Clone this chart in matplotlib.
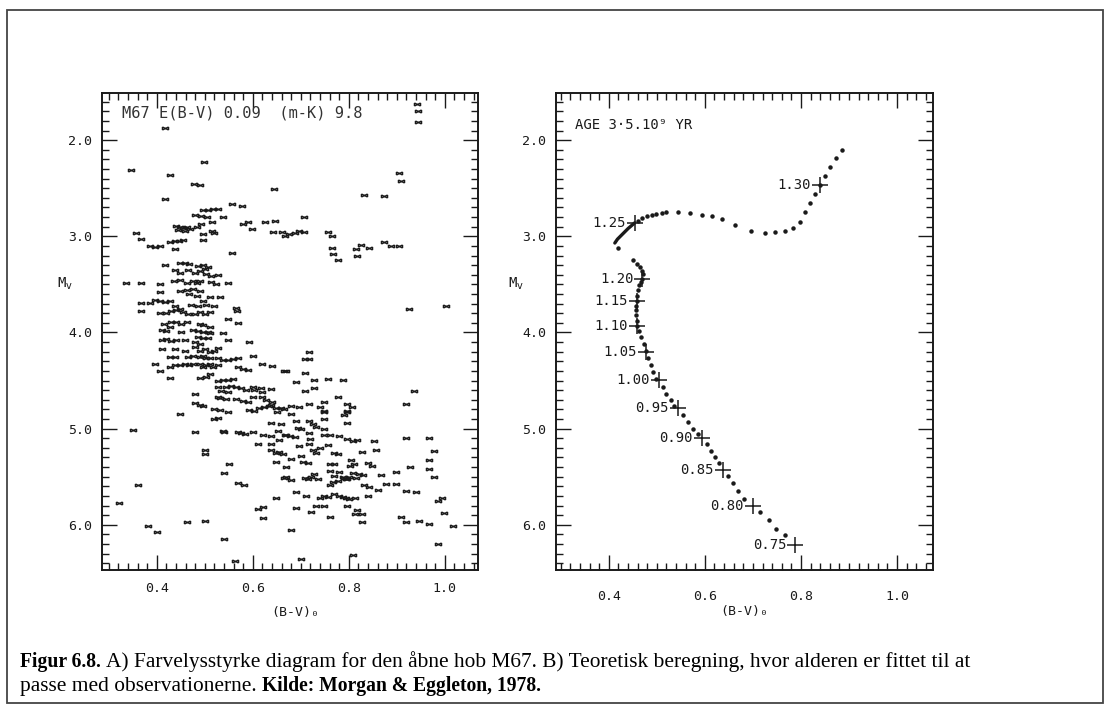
import matplotlib
matplotlib.use('Agg')
import matplotlib.pyplot as plt
from matplotlib.path import Path
from matplotlib.patches import Rectangle
from matplotlib.ticker import MultipleLocator, FixedLocator

stars_giants = [
    (0.943, 1.62), (0.945, 1.70), (0.945, 1.81), (0.417, 1.87),
    (0.498, 2.23), (0.347, 2.31), (0.427, 2.36), (0.478, 2.46), (0.490, 2.47),
    (0.417, 2.61), (0.645, 2.51), (0.557, 2.66), (0.577, 2.68),
    (0.904, 2.34), (0.909, 2.43), (0.832, 2.57), (0.874, 2.58),
    (0.497, 2.73), (0.507, 2.73), (0.518, 2.72), (0.528, 2.72),
    (0.480, 2.78), (0.492, 2.79), (0.505, 2.80), (0.538, 2.80),
    (0.516, 2.85), (0.493, 2.87),
    (0.440, 2.89), (0.448, 2.90), (0.455, 2.91), (0.463, 2.90), (0.445, 2.93),
    (0.458, 2.94), (0.470, 2.92), (0.483, 2.90), (0.516, 2.94), (0.520, 2.97),
    (0.580, 2.875), (0.590, 2.85), (0.598, 2.92), (0.626, 2.85), (0.647, 2.84),
    (0.642, 2.955), (0.660, 2.955), (0.668, 3.00),
    (0.356, 2.97), (0.368, 3.03), (0.385, 3.10), (0.396, 3.11), (0.407, 3.10),
    (0.427, 3.06), (0.437, 3.05), (0.447, 3.05), (0.455, 3.04), (0.437, 3.13),
    (0.496, 2.98), (0.496, 3.04), (0.557, 3.17), (0.706, 2.80),
    (0.675, 2.98), (0.688, 2.97), (0.696, 2.95), (0.706, 2.96),
    (0.756, 2.955), (0.765, 3.00), (0.766, 3.12), (0.767, 3.18), (0.777, 3.25),
    (0.815, 3.13), (0.816, 3.20), (0.825, 3.09), (0.843, 3.12),
    (0.873, 3.06), (0.888, 3.10), (0.905, 3.10), (0.925, 3.76), (1.003, 3.73),
]

stars_turnoff = [
    (0.417, 3.30), (0.448, 3.28), (0.458, 3.28), (0.468, 3.29),
    (0.485, 3.31), (0.496, 3.30), (0.506, 3.32),
    (0.437, 3.35), (0.448, 3.38), (0.465, 3.35), (0.479, 3.38), (0.490, 3.36),
    (0.500, 3.34), (0.503, 3.39), (0.513, 3.41), (0.527, 3.40),
    (0.337, 3.49), (0.368, 3.49), (0.406, 3.50),
    (0.435, 3.47), (0.448, 3.45), (0.462, 3.49), (0.475, 3.47), (0.483, 3.49),
    (0.490, 3.46), (0.513, 3.48), (0.523, 3.50), (0.548, 3.49),
    (0.406, 3.58), (0.448, 3.57), (0.462, 3.56), (0.475, 3.55), (0.468, 3.60),
    (0.490, 3.57), (0.483, 3.62), (0.510, 3.63), (0.531, 3.63),
    (0.368, 3.69), (0.385, 3.69), (0.396, 3.66), (0.406, 3.67), (0.417, 3.68),
    (0.427, 3.67), (0.368, 3.78), (0.437, 3.73), (0.448, 3.76), (0.455, 3.79),
    (0.472, 3.71), (0.486, 3.72), (0.496, 3.67), (0.503, 3.71), (0.520, 3.72),
    (0.406, 3.80), (0.420, 3.80), (0.430, 3.78), (0.441, 3.77),
    (0.465, 3.81), (0.479, 3.81), (0.490, 3.79), (0.500, 3.81), (0.510, 3.79),
    (0.566, 3.75), (0.567, 3.78), (0.548, 3.86), (0.569, 3.90),
    (0.430, 3.89), (0.441, 3.89), (0.451, 3.91), (0.462, 3.89), (0.416, 3.91),
    (0.427, 3.94), (0.490, 3.91), (0.496, 3.92), (0.510, 3.94), (0.506, 3.99),
    (0.410, 3.97), (0.420, 3.98), (0.475, 3.97), (0.486, 3.98), (0.496, 4.00),
    (0.510, 4.01), (0.451, 4.00), (0.485, 4.05), (0.496, 4.06), (0.506, 4.06),
    (0.538, 4.01), (0.410, 4.08), (0.420, 4.07), (0.430, 4.09), (0.441, 4.08),
    (0.458, 4.08), (0.480, 4.10), (0.490, 4.12), (0.548, 4.08), (0.593, 4.10),
    (0.410, 4.17), (0.437, 4.17), (0.458, 4.19),
    (0.480, 4.15), (0.490, 4.19), (0.500, 4.17), (0.510, 4.20), (0.520, 4.19),
    (0.527, 4.16), (0.427, 4.25), (0.437, 4.25), (0.465, 4.25), (0.475, 4.24),
    (0.490, 4.25), (0.496, 4.24), (0.503, 4.27), (0.510, 4.27),
    (0.527, 4.27), (0.538, 4.29), (0.548, 4.29), (0.558, 4.28), (0.569, 4.27),
    (0.600, 4.24), (0.620, 4.33), (0.640, 4.35), (0.666, 4.40),
    (0.396, 4.33), (0.406, 4.40),
    (0.427, 4.36), (0.437, 4.34), (0.448, 4.34), (0.458, 4.33), (0.468, 4.34),
    (0.475, 4.33), (0.490, 4.33), (0.496, 4.36), (0.503, 4.34), (0.510, 4.33),
    (0.517, 4.36), (0.527, 4.34), (0.569, 4.36), (0.580, 4.38), (0.590, 4.39),
    (0.427, 4.47), (0.490, 4.47), (0.503, 4.46), (0.510, 4.43),
    (0.527, 4.50), (0.538, 4.49), (0.548, 4.49), (0.558, 4.48),
    (0.527, 4.57), (0.534, 4.61), (0.545, 4.57), (0.548, 4.62), (0.555, 4.56),
    (0.566, 4.57), (0.576, 4.58), (0.586, 4.60),
    (0.600, 4.57), (0.603, 4.60), (0.617, 4.58), (0.620, 4.62), (0.638, 4.59),
    (0.479, 4.64), (0.527, 4.67), (0.531, 4.68), (0.545, 4.69),
    (0.566, 4.69), (0.580, 4.71), (0.590, 4.72), (0.600, 4.67),
    (0.620, 4.67), (0.627, 4.70), (0.641, 4.72), (0.638, 4.75),
    (0.479, 4.73), (0.490, 4.75), (0.496, 4.76),
]

stars_lower = [
    (0.448, 4.85), (0.520, 4.80), (0.531, 4.81),
    (0.593, 4.81), (0.603, 4.82), (0.613, 4.79), (0.624, 4.77), (0.634, 4.76),
    (0.648, 4.79), (0.658, 4.79), (0.666, 4.80),
    (0.718, 4.20), (0.708, 4.28), (0.718, 4.28), (0.670, 4.40), (0.709, 4.42),
    (0.690, 4.51), (0.728, 4.49), (0.756, 4.48), (0.787, 4.49),
    (0.708, 4.61), (0.728, 4.58), (0.936, 4.61), (0.919, 4.74), (0.777, 4.67),
    (0.680, 4.76), (0.697, 4.78), (0.718, 4.74), (0.739, 4.77), (0.749, 4.72),
    (0.797, 4.74), (0.807, 4.78), (0.797, 4.83), (0.749, 4.83), (0.680, 4.85),
    (0.548, 4.83), (0.520, 4.90), (0.527, 4.89), (0.650, 4.83),
    (0.638, 4.94), (0.659, 4.95),
    (0.350, 5.01), (0.479, 5.04), (0.538, 5.02), (0.541, 5.04),
    (0.569, 5.04), (0.576, 5.05), (0.583, 5.06), (0.600, 5.04), (0.621, 5.07),
    (0.638, 5.08), (0.652, 5.02), (0.655, 5.12), (0.668, 5.07),
    (0.610, 5.16), (0.638, 5.16), (0.638, 5.22), (0.648, 5.25), (0.655, 5.24),
    (0.662, 5.26), (0.500, 5.22), (0.500, 5.26),
    (0.550, 5.37), (0.541, 5.46), (0.649, 5.35), (0.670, 5.40), (0.670, 5.50),
    (0.569, 5.57), (0.581, 5.59), (0.361, 5.59), (0.322, 5.77), (0.649, 5.72),
    (0.610, 5.84), (0.621, 5.82), (0.621, 5.93),
    (0.462, 5.97), (0.500, 5.96), (0.382, 6.01), (0.401, 6.07), (0.541, 6.15),
    (0.562, 6.38),
    (0.718, 4.92), (0.725, 4.95), (0.732, 4.98), (0.749, 4.82), (0.749, 4.90),
    (0.790, 4.86), (0.797, 4.82), (0.797, 4.94),
    (0.690, 4.92), (0.694, 4.99), (0.700, 5.00), (0.749, 5.00),
    (0.670, 5.07), (0.677, 5.08), (0.687, 5.09), (0.718, 5.05), (0.720, 5.11),
    (0.749, 5.07), (0.760, 5.07), (0.780, 5.08),
    (0.797, 5.11), (0.808, 5.13), (0.818, 5.12), (0.853, 5.13), (0.919, 5.10),
    (0.968, 5.10),
    (0.697, 5.18), (0.718, 5.16), (0.725, 5.22), (0.732, 5.25), (0.739, 5.20),
    (0.756, 5.17), (0.770, 5.25), (0.777, 5.26),
    (0.827, 5.24), (0.857, 5.22), (0.978, 5.23),
    (0.680, 5.32), (0.700, 5.28), (0.705, 5.35), (0.715, 5.36), (0.760, 5.37),
    (0.770, 5.37), (0.805, 5.33), (0.810, 5.37), (0.803, 5.39), (0.840, 5.36),
    (0.848, 5.39), (0.728, 5.47), (0.735, 5.52),
    (0.760, 5.44), (0.770, 5.49), (0.780, 5.45), (0.787, 5.50), (0.794, 5.52),
    (0.801, 5.50), (0.808, 5.46), (0.815, 5.51),
    (0.822, 5.47), (0.830, 5.48), (0.868, 5.48), (0.898, 5.45), (0.928, 5.40),
    (0.968, 5.42), (0.968, 5.33), (0.978, 5.50),
    (0.666, 5.51), (0.680, 5.53), (0.708, 5.51), (0.715, 5.52), (0.722, 5.50),
    (0.760, 5.59), (0.767, 5.56), (0.777, 5.54), (0.790, 5.51), (0.797, 5.52),
    (0.832, 5.59), (0.843, 5.61), (0.860, 5.64), (0.877, 5.58), (0.898, 5.58),
    (0.919, 5.65), (0.940, 5.66), (0.690, 5.66), (0.711, 5.70),
    (0.739, 5.72), (0.749, 5.70), (0.756, 5.71), (0.770, 5.68), (0.780, 5.70),
    (0.787, 5.71), (0.794, 5.72), (0.801, 5.73), (0.812, 5.72),
    (0.840, 5.70), (0.985, 5.75), (0.995, 5.72),
    (0.690, 5.83), (0.732, 5.80), (0.749, 5.80), (0.722, 5.87), (0.760, 5.92),
    (0.797, 5.80), (0.812, 5.89), (0.818, 5.85), (0.827, 5.89), (0.827, 5.97),
    (0.909, 5.92), (0.919, 5.97), (0.947, 5.96), (0.968, 5.99), (0.998, 5.88),
    (1.016, 6.01), (0.680, 6.05), (0.986, 6.20), (0.700, 6.36), (0.808, 6.31),
]

# ---- theoretical isochrone, 3.5e9 yr ----
iso_giant = [
    (0.885, 2.10), (0.873, 2.19), (0.861, 2.28), (0.850, 2.37), (0.840, 2.47),
    (0.829, 2.56), (0.819, 2.65), (0.808, 2.75), (0.798, 2.85), (0.784, 2.91),
    (0.767, 2.94), (0.746, 2.96), (0.725, 2.97), (0.696, 2.94), (0.662, 2.88),
    (0.635, 2.82), (0.614, 2.79), (0.593, 2.78), (0.570, 2.76), (0.544, 2.75),
    (0.520, 2.75), (0.510, 2.76), (0.498, 2.77), (0.489, 2.78), (0.479, 2.79),
    (0.469, 2.81), (0.461, 2.84), (0.419, 3.12),
]
iso_hook = [(0.454, 2.86), (0.440, 2.92), (0.428, 2.98), (0.418, 3.03), (0.4125, 3.07)]
iso_ms = [
    (0.451, 3.25), (0.458, 3.29), (0.464, 3.32), (0.469, 3.36), (0.471, 3.39),
    (0.470, 3.44), (0.466, 3.48), (0.463, 3.51), (0.461, 3.56), (0.459, 3.62),
    (0.458, 3.67), (0.457, 3.72), (0.457, 3.77), (0.457, 3.82), (0.458, 3.88),
    (0.458, 3.93), (0.463, 3.98), (0.468, 4.05), (0.473, 4.12), (0.477, 4.19),
    (0.482, 4.27), (0.4875, 4.34), (0.492, 4.41), (0.499, 4.48), (0.513, 4.57),
    (0.520, 4.64), (0.5285, 4.70), (0.535, 4.76), (0.555, 4.86), (0.565, 4.93),
    (0.576, 5.00), (0.586, 5.06), (0.6035, 5.16), (0.6125, 5.23), (0.621, 5.29),
    (0.630, 5.36), (0.649, 5.49), (0.659, 5.57), (0.669, 5.65), (0.681, 5.73),
    (0.715, 5.87), (0.733, 5.95), (0.749, 6.04), (0.767, 6.11),
]
mass_labels = ['1.30', '1.25', '1.20', '1.15', '1.10', '1.05',
               '1.00', '0.95', '0.90', '0.85', '0.80', '0.75']
mass_bv = [0.840, 0.454, 0.470, 0.458, 0.458, 0.477, 0.505, 0.544, 0.593, 0.637, 0.700, 0.788]
mass_mv = [2.47, 2.86, 3.44, 3.67, 3.93, 4.20, 4.49, 4.79, 5.10, 5.43, 5.80, 6.21]

x_ticks = [0.4, 0.6, 0.8, 1.0]
y_ticks = [2.0, 3.0, 4.0, 5.0, 6.0]

INK = '#1a1a1a'
MONO = 'DejaVu Sans Mono'

# small "bow-tie" cross, like the plotter symbol on the scan
bowtie = Path([(-1, -0.5), (1, 0.5), (-1, 0.5), (1, -0.5),
               (-1, -0.5), (-1, 0.5), (1, -0.5), (1, 0.5)],
              [Path.MOVETO, Path.LINETO, Path.MOVETO, Path.LINETO,
               Path.MOVETO, Path.LINETO, Path.MOVETO, Path.LINETO])

fig = plt.figure(figsize=(11.09, 7.05), dpi=100)
W, H = 1109, 705


def style_axes(ax, xlim, xpad, xlab_x, xlab_y, ylab_x):
    ax.set_xlim(*xlim)
    ax.set_ylim(6.47, 1.51)
    ax.xaxis.set_major_locator(FixedLocator(x_ticks))
    ax.xaxis.set_minor_locator(MultipleLocator(0.02))
    ax.yaxis.set_major_locator(FixedLocator(y_ticks))
    ax.yaxis.set_minor_locator(MultipleLocator(0.1))
    ax.set_xticklabels([f'{v:.1f}' for v in x_ticks])
    ax.set_yticklabels([f'{v:.1f}' for v in y_ticks])
    ax.tick_params(which='both', direction='in', top=True, right=True,
                   color=INK, width=1.0, labelcolor=INK, labelsize=9.5)
    ax.tick_params(which='major', length=11)
    ax.tick_params(which='minor', length=5)
    ax.tick_params(axis='y', which='major', pad=7)
    ax.tick_params(axis='x', which='major', pad=xpad)
    for lab in ax.get_xticklabels() + ax.get_yticklabels():
        lab.set_family(MONO)
    for sp in ax.spines.values():
        sp.set_linewidth(1.4)
        sp.set_color(INK)
    ax.text(ylab_x, 0.60, r'M$_{\mathsf{v}}$', transform=ax.transAxes,
            fontsize=10, color=INK, ha='center', va='center', family=MONO)
    ax.text(xlab_x, xlab_y, '(B-V)₀', transform=ax.transAxes, fontsize=9.5,
            color=INK, ha='center', va='center', family=MONO)


# ---- A) observed cluster ----
axA = fig.add_axes([102 / W, 1 - 570 / H, 376 / W, 477 / H])
stars = stars_giants + stars_turnoff + stars_lower
axA.plot([s[0] for s in stars], [s[1] for s in stars], ls='none',
         marker=bowtie, ms=4.4, mew=1.0, color=INK)
style_axes(axA, (0.286, 1.069), xpad=8.5, xlab_x=0.515, xlab_y=-0.090,
           ylab_x=-0.098)
axA.text(0.053, 0.958, 'M67 E(B-V) 0.09  (m-K) 9.8', transform=axA.transAxes,
         fontsize=11.1, color='#333333', family=MONO, va='center')

# ---- B) theoretical isochrone ----
axB = fig.add_axes([556 / W, 1 - 570 / H, 377 / W, 477 / H])
axB.plot([p[0] for p in iso_giant + iso_ms], [p[1] for p in iso_giant + iso_ms],
         ls='none', marker='o', ms=2.2, color=INK)
axB.plot([p[0] for p in iso_hook], [p[1] for p in iso_hook], color=INK, lw=2.4,
         solid_capstyle='round')
axB.plot(mass_bv, mass_mv, ls='none', marker='+', ms=12, mew=1.1, color=INK)
for lab, bx, my in zip(mass_labels, mass_bv, mass_mv):
    axB.annotate(lab, (bx, my), xytext=(-9, 0), textcoords='offset pixels',
                 ha='right', va='center', fontsize=10, color=INK, family=MONO)
style_axes(axB, (0.29, 1.075), xpad=14.5, xlab_x=0.5, xlab_y=-0.088,
           ylab_x=-0.106)
axB.text(0.05, 0.933, 'AGE 3·5.10⁹ YR', transform=axB.transAxes,
         fontsize=10, color=INK, family=MONO, va='center')

# ---- frame and caption ----
fig.patches.append(Rectangle((7 / W, 1 - 703 / H), 1096 / W, 693 / H,
                             transform=fig.transFigure, fill=False,
                             lw=1.3, ec='#444444'))

SERIF = 'Liberation Serif'
renderer = fig.canvas.get_renderer()
SIZES = {'normal': 15.4, 'bold': 14.1}


def caption_line(parts, x, y):
    for s, weight in parts:
        size = SIZES[weight]
        t = fig.text(x, y, s, fontsize=size, fontweight=weight, family=SERIF,
                     va='baseline', color='black')
        bb = t.get_window_extent(renderer)
        x += (bb.width + 0.27 * size * 100 / 72) / W


caption_line([('Figur 6.8.', 'bold'),
              ('A) Farvelysstyrke diagram for den åbne hob M67. B) Teoretisk beregning, hvor alderen er fittet til at', 'normal')],
             20 / W, 1 - 667 / H)
caption_line([('passe med observationerne.', 'normal'),
              ('Kilde: Morgan & Eggleton, 1978.', 'bold')],
             20 / W, 1 - 691 / H)

fig.savefig('out.png', dpi=100)
